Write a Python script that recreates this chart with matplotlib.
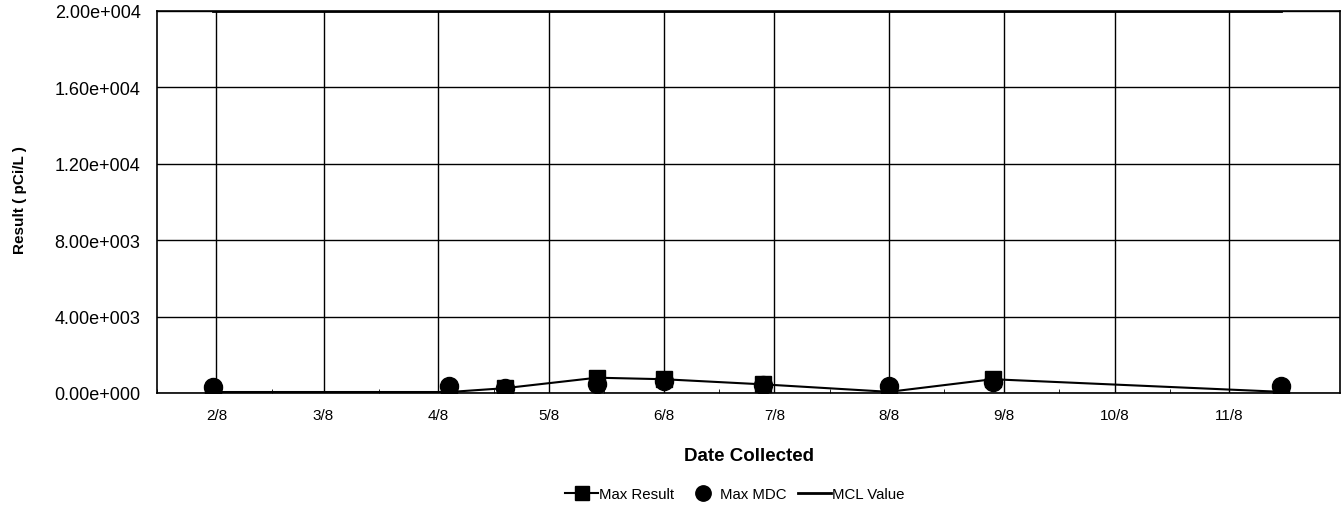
import pandas as pd
import matplotlib.pyplot as plt
import matplotlib.dates as mdates
from matplotlib.ticker import FuncFormatter, MultipleLocator

plt.rcParams['font.family'] = ['Liberation Sans', 'DejaVu Sans']

# datas das coletas
datas = pd.to_datetime(['2008-01-31', '2008-04-04', '2008-04-19', '2008-05-14',
                        '2008-06-01', '2008-06-28', '2008-08-01', '2008-08-29',
                        '2008-11-15'])
max_result = [50, 50, 250, 800, 720, 450, 60, 720, 60]
max_mdc = [330, 380, 250, 450, 650, 430, 360, 600, 370]
mcl_value = [20000] * len(datas)

fig = plt.figure(figsize=(13.44, 5.10), dpi=100)
ax = fig.add_axes([0.117, 0.2275, 0.88, 0.749])

ax.plot(datas, mcl_value, color='black', linewidth=2, label='MCL Value', zorder=3)
ax.plot(datas, max_mdc, linestyle='none', marker='o', markersize=13,
        color='black', label='Max MDC', zorder=4)
ax.plot(datas, max_result, color='black', linewidth=1.5, marker='s',
        markersize=12, label='Max Result', zorder=5)

# eixos
ax.set_xlim(pd.Timestamp('2008-01-16'), pd.Timestamp('2008-12-01'))
ax.set_ylim(0, 20000)
ax.xaxis.set_major_locator(mdates.MonthLocator(bymonth=range(2, 12)))
ax.xaxis.set_minor_locator(mdates.MonthLocator(bymonthday=16))
ax.xaxis.set_major_formatter(FuncFormatter(
    lambda v, p: '%d/%d' % (mdates.num2date(v).month, mdates.num2date(v).year % 10)))
ax.yaxis.set_major_locator(MultipleLocator(4000))


def fmt_y(v, p):
    mant, exp = ('%.2e' % v).split('e')
    return '%se%s%03d' % (mant, exp[0], abs(int(exp)))


ax.yaxis.set_major_formatter(FuncFormatter(fmt_y))
ax.grid(True, which='major', color='black', linewidth=1)
ax.tick_params(which='major', length=0)
ax.tick_params(axis='x', which='major', labelsize=11, pad=11)
ax.tick_params(axis='y', which='major', labelsize=13, pad=12)
ax.tick_params(which='minor', direction='in', length=3, color='black')
ax.tick_params(axis='y', which='minor', length=0)
for s in ax.spines.values():
    s.set_linewidth(1.2)

ax.set_xlabel('Date Collected', fontsize=13.5, fontweight='bold', labelpad=18)
ax.set_ylabel('Result ( pCi/L )', fontsize=11, fontweight='bold')
ax.yaxis.set_label_coords(-0.11, 0.508)

handles, labels = ax.get_legend_handles_labels()
fig.legend(handles[::-1], labels[::-1], loc='center', ncol=3,
           bbox_to_anchor=(735 / 1344, 1 - 495 / 510), frameon=False,
           fontsize=10.8, handlelength=2.2, handletextpad=0.05, columnspacing=0.8,
           markerscale=0.85)

plt.savefig('out.png', dpi=100)
